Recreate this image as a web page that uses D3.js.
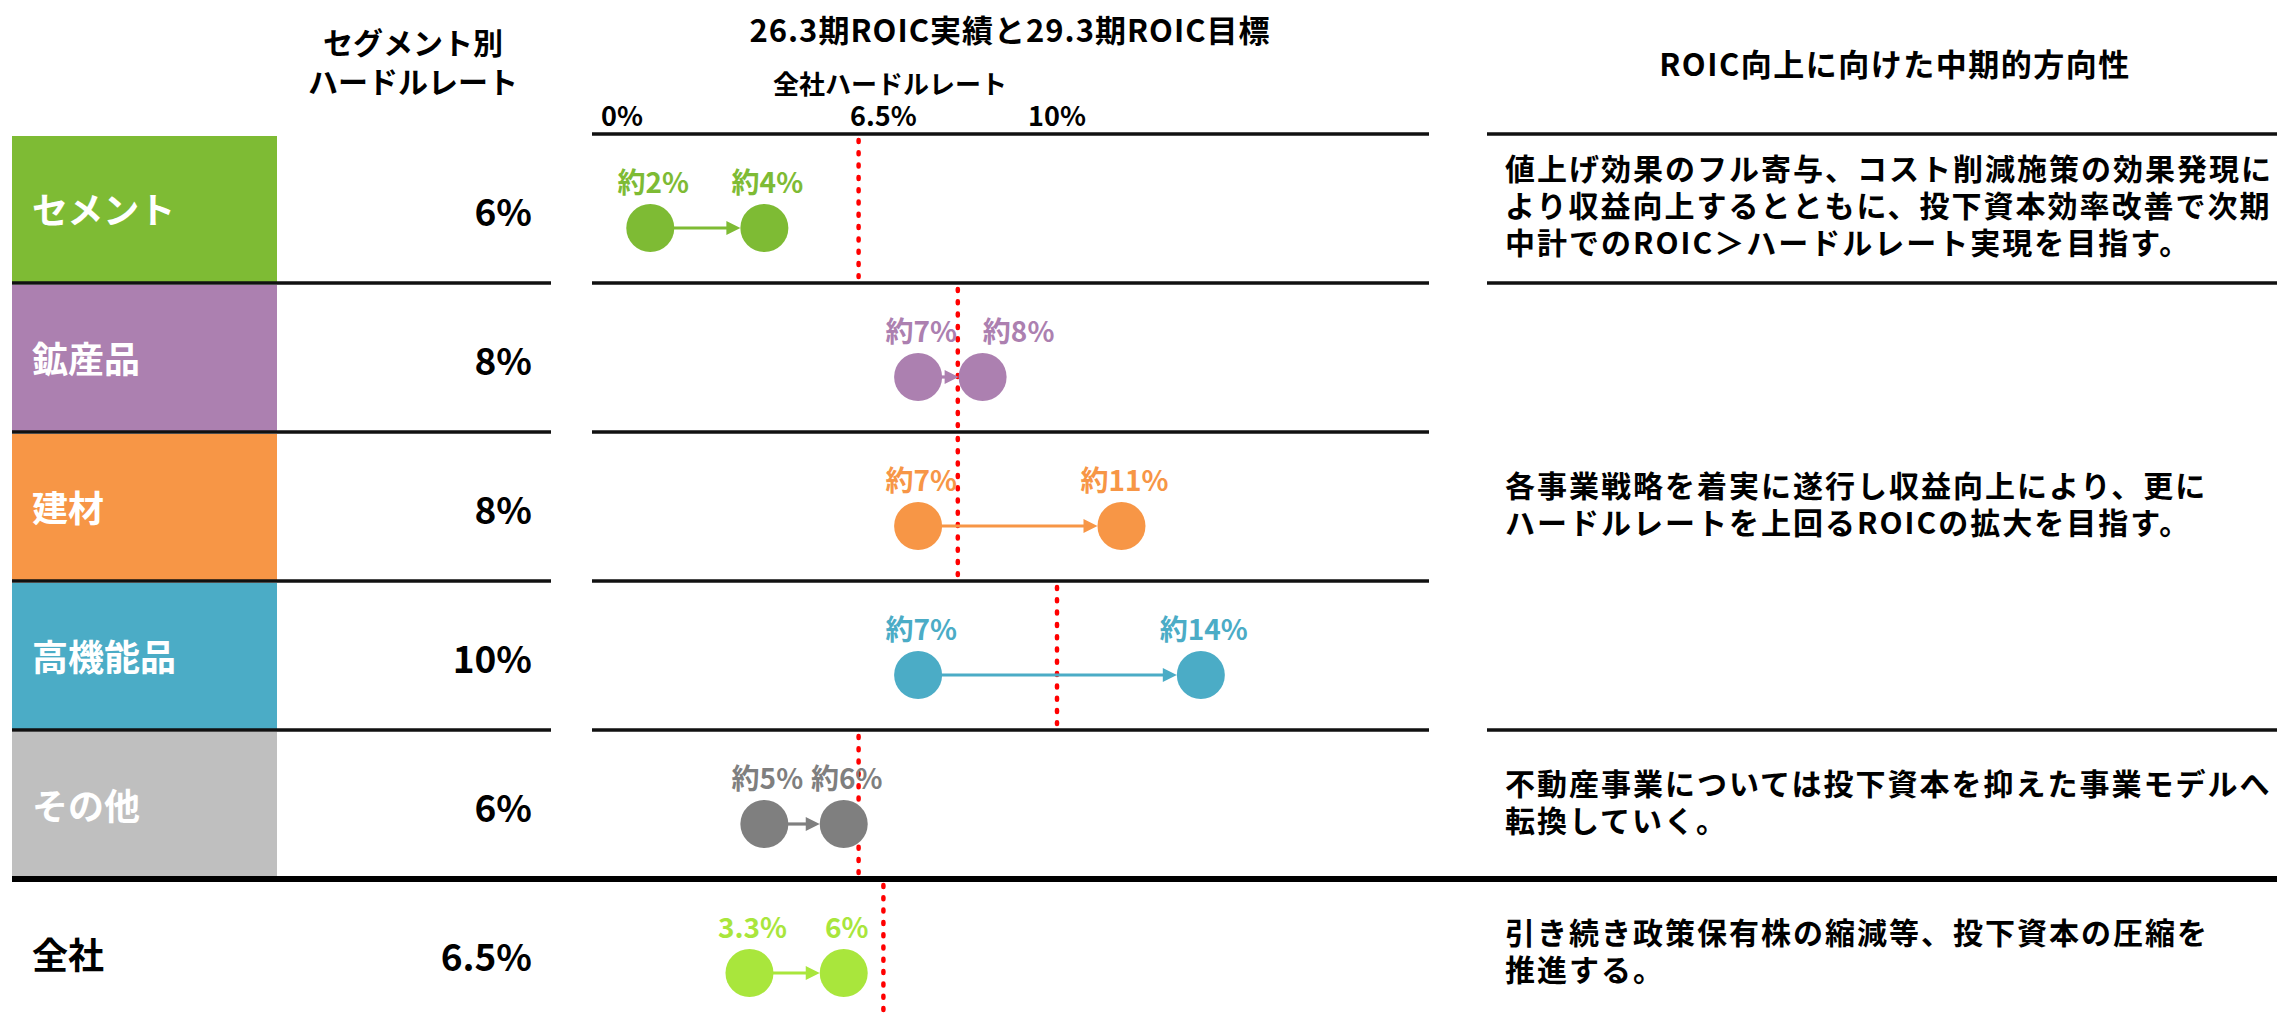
<!DOCTYPE html>
<html><head><meta charset="utf-8">
<script src="https://cdn.jsdelivr.net/npm/d3@7"></script>
<style>
html,body{margin:0;padding:0;background:#fff;}
svg{display:block;font-family:"Noto Sans CJK JP","Noto Sans",sans-serif;font-weight:700;}
</style></head>
<body>
<svg id="chart" width="2277" height="1014"></svg>
<script>
// ---- data ----
const categories   = ["セメント", "鉱産品", "建材", "高機能品", "その他", "全社"];
const hurdleRates  = [6, 8, 8, 10, 6, 6.5];
const hurdleLabels = ["6%", "8%", "8%", "10%", "6%", "6.5%"];
const roicFY26     = [1.8, 7.2, 7.2, 7.2, 4.1, 3.8];   // plotted position, 26.3期実績
const roicFY29     = [4.1, 8.5, 11.3, 12.9, 5.7, 5.7]; // plotted position, 29.3期目標
const labelsFY26   = ["約2%", "約7%", "約7%", "約7%", "約5%", "3.3%"];
const labelsFY29   = ["約4%", "約8%", "約11%", "約14%", "約6%", "6%"];
const tickValues   = [0, 6.5, 10];
const tickLabels   = ["0%", "6.5%", "10%"];
const directionTexts = [
  ["値上げ効果のフル寄与、コスト削減施策の効果発現に", "より収益向上するとともに、投下資本効率改善で次期", "中計でのROIC＞ハードルレート実現を目指す。"],
  ["各事業戦略を着実に遂行し収益向上により、更に", "ハードルレートを上回るROICの拡大を目指す。"],
  ["不動産事業については投下資本を抑えた事業モデルへ", "転換していく。"],
  ["引き続き政策保有株の縮減等、投下資本の圧縮を", "推進する。"]
];
const directionRows = [[0, 0], [1, 3], [4, 4], [5, 5]];
const titleMain   = "26.3期ROIC実績と29.3期ROIC目標";
const titleHurdle = "全社ハードルレート";
const titleSeg    = ["セグメント別", "ハードルレート"];
const titleDir    = "ROIC向上に向けた中期的方向性";

// ---- styles ----
const boxColor    = d3.scaleOrdinal().domain(categories).range(["#7EBB34", "#AC80B0", "#F79646", "#4BACC6", "#BFBFBF", "none"]);
const markColor   = d3.scaleOrdinal().domain(categories).range(["#7EBB34", "#AC80B0", "#F79646", "#4BACC6", "#7F7F7F", "#A9E63C"]);
const labelTextColor = d3.scaleOrdinal().domain(categories).range(["#fff", "#fff", "#fff", "#fff", "#fff", "#000"]);

const svg = d3.select("#chart");
const x = d3.scaleLinear().domain([0, 10]).range([561, 1057]);
const y = d3.scaleBand().domain(categories).range([134, 134 + 6 * 149]).padding(0);
const rowH = y.bandwidth();
const chartL = 592, chartR = 1429;
const leftL = 12, leftR = 551;
const rightL = 1487, rightR = 2277;
const r = 24;

// headers
svg.append("text").attr("x", 1010).attr("y", 28).attr("text-anchor", "middle").attr("dominant-baseline", "central")
  .attr("font-size", 31).attr("letter-spacing", 1).text(titleMain);
svg.append("text").attr("x", 890).attr("y", 82).attr("text-anchor", "middle").attr("dominant-baseline", "central")
  .attr("font-size", 26).text(titleHurdle);
{
  const t = svg.append("text").attr("text-anchor", "middle").attr("font-size", 30);
  titleSeg.forEach((d, i) => t.append("tspan").attr("x", 413).attr("y", 54 + i * 39).text(d));
}
svg.append("text").attr("x", 1895).attr("y", 62).attr("text-anchor", "middle").attr("dominant-baseline", "central")
  .attr("font-size", 31).attr("letter-spacing", 1.5).text(titleDir);

// tick labels (clamped inside the chart area)
const ticks = svg.selectAll("text.tick").data(tickValues).join("text").attr("class", "tick")
  .attr("y", 114).attr("text-anchor", "middle").attr("dominant-baseline", "central")
  .attr("font-size", 27).text((d, i) => tickLabels[i]);
ticks.each(function(d) {
  const w = this.getComputedTextLength();
  d3.select(this).attr("x", Math.max(x(d), chartL + 9 + w / 2));
});

// row boxes & labels
categories.forEach((c, i) => {
  const top = y(c);
  if (boxColor(c) !== "none") {
    svg.append("rect").attr("x", leftL).attr("y", top + 2).attr("width", 277 - leftL).attr("height", rowH - 2).attr("fill", boxColor(c));
  }
  svg.append("text").attr("x", 32).attr("y", top + rowH / 2 - 1).attr("dominant-baseline", "central")
    .attr("font-size", 36).attr("fill", labelTextColor(c)).text(c);
  svg.append("text").attr("x", 532).attr("y", top + rowH / 2 + 1).attr("text-anchor", "end").attr("dominant-baseline", "central")
    .attr("font-size", 37).attr("fill", "#000").text(hurdleLabels[i]);
});

// grid lines
const lineCol = "#111";
categories.slice(0, 4).forEach(c => {
  const yy = y(c) + rowH;
  svg.append("line").attr("x1", leftL).attr("x2", leftR).attr("y1", yy).attr("y2", yy).attr("stroke", lineCol).attr("stroke-width", 3.5);
});
categories.slice(0, 5).forEach(c => {
  const yy = y(c);
  svg.append("line").attr("x1", chartL).attr("x2", chartR).attr("y1", yy).attr("y2", yy).attr("stroke", lineCol).attr("stroke-width", 3.5);
});
directionRows.slice(0, 3).forEach(([a]) => {
  const yy = y(categories[a]);
  svg.append("line").attr("x1", rightL).attr("x2", rightR).attr("y1", yy).attr("y2", yy).attr("stroke", lineCol).attr("stroke-width", 3.5);
});
{
  const yy = y(categories[5]);
  svg.append("line").attr("x1", leftL).attr("x2", rightR).attr("y1", yy).attr("y2", yy).attr("stroke", "#000").attr("stroke-width", 6);
}

// hurdle dotted lines
categories.forEach((c, i) => {
  const top = y(c);
  svg.append("line").attr("x1", x(hurdleRates[i])).attr("x2", x(hurdleRates[i]))
    .attr("y1", top + 6).attr("y2", top + rowH - 6)
    .attr("stroke", "#FF0000").attr("stroke-width", 4.5).attr("stroke-linecap", "round")
    .attr("stroke-dasharray", "2 10.3");
});

// arrows, circles, labels
categories.forEach((c, i) => {
  const top = y(c);
  const cy = top + 94;
  const x1 = x(roicFY26[i]), x2 = x(roicFY29[i]);
  const col = markColor(c);
  const tip = x2 - r, head = 14;
  svg.append("line").attr("x1", x1 + r - 1).attr("x2", tip - head + 1).attr("y1", cy).attr("y2", cy)
    .attr("stroke", col).attr("stroke-width", 3.2);
  svg.append("path").attr("d", `M${tip},${cy} L${tip - head},${cy - 7} L${tip - head},${cy + 7} Z`).attr("fill", col);
  svg.append("circle").attr("cx", x1).attr("cy", cy).attr("r", r).attr("fill", col);
  svg.append("circle").attr("cx", x2).attr("cy", cy).attr("r", r).attr("fill", col);
  const mk = (xx, t) => svg.append("text").attr("x", xx + 3).attr("y", top + 47).attr("text-anchor", "middle")
      .attr("dominant-baseline", "central").attr("font-size", 28).attr("fill", col).text(t);
  const l1 = mk(x1, labelsFY26[i]);
  const l2 = mk(x2, labelsFY29[i]);
  // avoid label collision: push the target label to the right
  const w1 = l1.node().getComputedTextLength(), w2 = l2.node().getComputedTextLength();
  const r1 = x1 + 3 + w1 / 2, left2 = x2 + 3 - w2 / 2;
  if (left2 - r1 < 0) l2.attr("x", r1 + 26 + w2 / 2);
});

// direction texts
directionTexts.forEach((lines, k) => {
  const [a, b] = directionRows[k];
  const mid = (y(categories[a]) + y(categories[b]) + rowH) / 2 - 2;
  const lh = 37;
  const t = svg.append("text").attr("font-size", 30).attr("letter-spacing", 2).attr("fill", "#000");
  lines.forEach((s, j) => {
    t.append("tspan").attr("x", 1505).attr("y", mid + (j - (lines.length - 1) / 2) * lh + 10.5).text(s);
  });
});
</script>
</body></html>
